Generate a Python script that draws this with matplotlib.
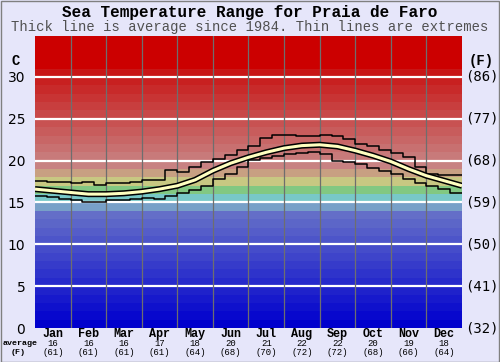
import matplotlib
matplotlib.use("Agg")
import matplotlib.pyplot as plt
import numpy as np

# month labels and the monthly average rows under the chart
months = ["Jan", "Feb", "Mar", "Apr", "May", "Jun", "Jul", "Aug", "Sep", "Oct", "Nov", "Dec"]
avg_c = [16, 16, 16, 17, 18, 20, 21, 22, 22, 20, 19, 18]
avg_f = [61, 61, 61, 61, 64, 68, 70, 72, 72, 68, 66, 64]

# average curve, sampled every half month (x in months, 0..12)
avg_x = np.arange(0, 12.01, 0.5)
avg_line = [16.6, 16.4, 16.2, 16.0, 16.0, 16.1, 16.3, 16.6, 17.0, 17.7, 18.8, 19.7,
            20.4, 21.0, 21.5, 21.8, 21.9, 21.7, 21.2, 20.6, 19.9, 19.0, 18.2, 17.6, 17.0]

# extremes, sampled every third of a month
ext_x = np.arange(36) / 3.0
max_line = [17.6, 17.5, 17.4, 17.3, 17.5, 17.1, 17.3, 17.3, 17.4, 17.7, 17.7, 18.9,
            18.7, 19.3, 19.8, 20.2, 20.7, 21.3, 21.8, 22.7, 23.1, 23.1, 23.0, 22.9,
            23.1, 23.0, 22.6, 22.0, 21.7, 21.3, 20.9, 20.4, 19.2, 18.4, 18.3, 18.3]
min_line = [15.8, 15.6, 15.4, 15.3, 15.1, 15.0, 15.3, 15.3, 15.4, 15.5, 15.4, 15.8,
            16.1, 16.5, 17.0, 17.8, 18.4, 19.2, 20.1, 20.3, 20.5, 20.8, 20.9, 21.0,
            20.8, 20.0, 19.8, 19.6, 19.1, 18.8, 18.4, 17.8, 17.3, 17.0, 16.6, 16.1]

c_ticks = [0, 5, 10, 15, 20, 25, 30]
f_ticks = ["(32)", "(41)", "(50)", "(59)", "(68)", "(77)", "(86)"]

bg = "#e6e6fa"
mono = "Liberation Mono"


def band_color(t):
    # one colour per 1 degree band, blue -> teal/green/yellow -> red
    if t < 14:
        f = t / 13.0
        c = np.array([0, 0, 205]) + f * np.array([100, 110, -5])
    elif t == 14:
        c = (120, 160, 200)
    elif t == 15:
        c = (120, 200, 200)
    elif t == 16:
        c = (130, 200, 130)
    elif t == 17:
        c = (200, 200, 130)
    elif t == 18:
        c = (200, 160, 130)
    elif t == 19:
        c = (200, 130, 130)
    elif t <= 30:
        f = (t - 20) / 10.0
        c = np.array([200, 122, 122]) + f * np.array([0, -100, -100])
    else:
        c = (204, 0, 0)
    return tuple(np.array(c, dtype=float) / 255.0)


fig = plt.figure(figsize=(5.0, 3.62), dpi=100, facecolor=bg)
ax = fig.add_axes([35 / 500, 34 / 362, 427 / 500, 292 / 362])
ax.set_xlim(0, 12)
ax.set_ylim(0, 34.9)

for t in range(35):
    ax.axhspan(t, t + 1, color=band_color(t), lw=0, zorder=0)

for c in c_ticks[1:]:
    ax.axhline(c, color="white", lw=1.6, zorder=1)
for m in range(1, 12):
    ax.axvline(m, color="#6e6e6e", lw=0.9, zorder=1)

# extremes as thin stepped lines
ax.step(np.append(ext_x, 12), max_line + [max_line[-1]], where="post",
        color="black", lw=1.1, zorder=3)
ax.step(np.append(ext_x, 12), min_line + [min_line[-1]], where="post",
        color="black", lw=1.1, zorder=3)

# average: black outline with pale yellow core
ax.plot(avg_x, avg_line, color="black", lw=4.4, zorder=4, solid_capstyle="butt")
ax.plot(avg_x, avg_line, color="#ffffc0", lw=2.2, zorder=5, solid_capstyle="butt")

ax.set_xticks([])
ax.set_yticks(c_ticks)
ax.set_yticklabels([str(c) for c in c_ticks], fontsize=10, family="DejaVu Sans")
ax.tick_params(axis="y", length=0, pad=7)
for s in ax.spines.values():
    s.set_visible(False)

tr = ax.get_yaxis_transform()
for c, f in zip(c_ticks, f_ticks):
    ax.text(1.008, c, f, transform=tr, ha="left", va="center", fontsize=10,
            family="DejaVu Sans Mono")

xt = ax.get_xaxis_transform()
for i, m in enumerate(months):
    ax.text(i + 0.5, -0.021, m, transform=xt, ha="center", va="center",
            fontsize=8.5, family=mono, weight="bold")
    ax.text(i + 0.5, -0.053, str(avg_c[i]), transform=xt, ha="center", va="center",
            fontsize=6.5, family=mono)
    ax.text(i + 0.5, -0.085, "(%d)" % avg_f[i], transform=xt, ha="center", va="center",
            fontsize=6.5, family=mono)

fig.text(20 / 500, 1 - 343.5 / 362, "average", ha="center", va="center",
         fontsize=6, family=mono, weight="bold")
fig.text(18 / 500, 1 - 352.5 / 362, "(F)", ha="center", va="center",
         fontsize=6, family=mono, weight="bold")
fig.text(16 / 500, 1 - 61 / 362, "C", ha="center", va="center",
         fontsize=10, family=mono, weight="bold")
fig.text(481 / 500, 1 - 61 / 362, "(F)", ha="center", va="center",
         fontsize=10, family=mono, weight="bold")

fig.text(0.5, 1 - 12 / 362, "Sea Temperature Range for Praia de Faro",
         ha="center", va="center", fontsize=11.5, family=mono, weight="bold")
fig.text(0.5, 1 - 27 / 362, "Thick line is average since 1984. Thin lines are extremes",
         ha="center", va="center", fontsize=10, family=mono, color="#505050")

# thin frame round the whole picture
fig.patches.append(plt.Rectangle((0.001, 0.001), 0.997, 0.997, transform=fig.transFigure,
                                 fill=False, edgecolor="#808080", lw=1))

fig.savefig("out.png", dpi=100, facecolor=bg)
